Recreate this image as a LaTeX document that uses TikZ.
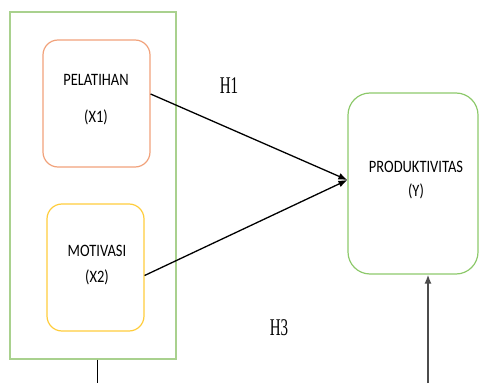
\documentclass[tikz,border=0pt]{standalone}
\usepackage{fontspec}
\setmainfont{Liberation Serif}
\newfontfamily\calibri{Carlito}
\usetikzlibrary{arrows.meta,calc,positioning}
\definecolor{framegreen}{HTML}{A9D18E}
\definecolor{boxgreen}{HTML}{8DC96B}
\definecolor{boxorange}{HTML}{F1A27B}
\definecolor{boxyellow}{HTML}{FFCD3C}
\tikzset{
  varbox/.style={draw,line width=1.2pt,rounded corners=15pt,inner sep=0pt},
  vartext/.style={font=\calibri\fontsize{14.5}{17}\selectfont,inner sep=0pt,yscale=1.2,transform shape},
  hyptext/.style={font=\fontsize{15}{18}\selectfont,inner sep=0pt,yscale=1.6,transform shape},
  link/.style={line width=1.3pt,-{Latex[length=9pt,width=7pt]}}
}
\begin{document}
\begin{tikzpicture}[x=1pt,y=1pt]
  \useasboundingbox (0,0) rectangle (479,383);
  % frame round X1 and X2
  \node[draw=framegreen,line width=1.2pt,minimum width=166pt,minimum height=347pt,inner sep=0pt] (frame) at (93,197.5) {};
  % variable boxes
  \node[varbox,draw=boxorange,minimum width=107pt,minimum height=127pt] (pel) at (96.5,279.5) {};
  \node[varbox,draw=boxyellow,minimum width=97pt,minimum height=127pt] (mot) at (95.5,115.5) {};
  \node[varbox,draw=boxgreen,rounded corners=22pt,minimum width=130pt,minimum height=181pt] (prod) at (413,199.5) {};
  % labels of the boxes
  \node[vartext] (pel1) at (96,303) {PELATIHAN};
  \node[vartext] (pel2) at (96,266) {(X1)};
  \node[vartext] (mot1) at (97,132) {MOTIVASI};
  \node[vartext] (mot2) at (97,106) {(X2)};
  \node[vartext] (prod1) at (416,216) {PRODUKTIVITAS};
  \node[vartext] (prod2) at (416,192) {(Y)};
  % hypotheses
  \node[hyptext] (h1) at (229,297) {H1};
  \node[hyptext] (h3) at (279,55) {H3};
  % arrows
  \draw[link] ([yshift=9.5pt]pel.east) -- ([yshift=3.5pt]prod.west);
  \draw[link] ([yshift=-8pt]mot.east) -- ([yshift=3.5pt]prod.west);
  % lines leaving the picture
  \coordinate (low) at (97,0);
  \coordinate (rlow) at (428,0);
  \draw[line width=0.9pt] (frame.south -| low) -- (low);
  \draw[line width=1.6pt,black!70,-{Latex[length=9pt,width=7pt]}] (rlow) -- (rlow |- prod.south);
\end{tikzpicture}
\end{document}
